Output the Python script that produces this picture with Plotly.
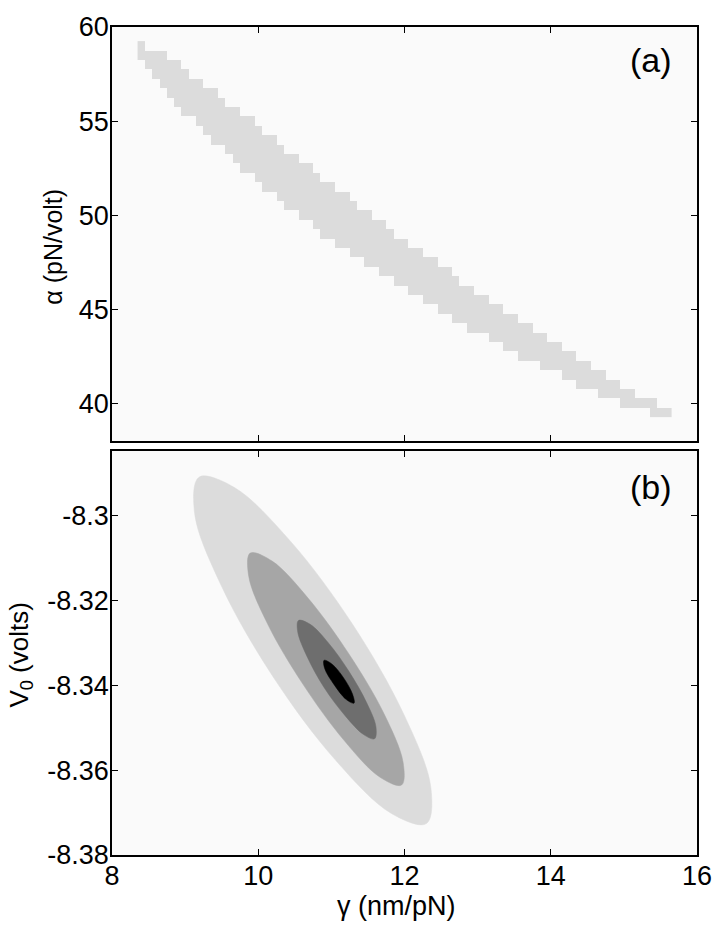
import plotly.graph_objects as go

# ---- panel (a): confidence band on the (gamma, alpha) grid ----
gamma_cols = [8.4, 8.5, 8.6, 8.7, 8.8, 8.9, 9.0, 9.1, 9.2, 9.3,
              9.4, 9.5, 9.6, 9.7, 9.8, 9.9, 10.0, 10.1, 10.2, 10.3,
              10.4, 10.5, 10.6, 10.7, 10.8, 10.9, 11.0, 11.1, 11.2, 11.3,
              11.4, 11.5, 11.6, 11.7, 11.8, 11.9, 12.0, 12.1, 12.2, 12.3,
              12.4, 12.5, 12.6, 12.7, 12.8, 12.9, 13.0, 13.1, 13.2, 13.3,
              13.4, 13.5, 13.6, 13.7, 13.8, 13.9, 14.0, 14.1, 14.2, 14.3,
              14.4, 14.5, 14.6, 14.7, 14.8, 14.9, 15.0, 15.1, 15.2, 15.3,
              15.4, 15.5, 15.6]
alpha_rows = [39.5, 40.0, 40.5, 41.0, 41.5, 42.0, 42.5, 43.0, 43.5, 44.0,
              44.5, 45.0, 45.5, 46.0, 46.5, 47.0, 47.5, 48.0, 48.5, 49.0,
              49.5, 50.0, 50.5, 51.0, 51.5, 52.0, 52.5, 53.0, 53.5, 54.0,
              54.5, 55.0, 55.5, 56.0, 56.5, 57.0, 57.5, 58.0, 58.5, 59.0]
band_top = [59.0, 58.5, 58.5, 58.5, 58.0, 58.0, 57.5, 57.0, 57.0, 56.5,
            56.5, 56.0, 55.5, 55.5, 55.0, 55.0, 54.5, 54.0, 54.0, 53.5,
            53.0, 53.0, 52.5, 52.5, 52.0, 51.5, 51.5, 51.0, 51.0, 50.5,
            50.0, 50.0, 49.5, 49.5, 49.0, 48.5, 48.5, 48.0, 48.0, 47.5,
            47.5, 47.0, 47.0, 46.5, 46.0, 46.0, 45.5, 45.5, 45.0, 45.0,
            44.5, 44.5, 44.0, 44.0, 43.5, 43.5, 43.0, 43.0, 42.5, 42.5,
            42.0, 42.0, 41.5, 41.5, 41.0, 41.0, 40.5, 40.5, 40.0, 40.0,
            40.0, 39.5, 39.5]
band_bottom = [58.5, 58.0, 57.5, 57.0, 56.5, 56.0, 55.5, 55.5, 55.0, 54.5,
               54.0, 54.0, 53.5, 53.0, 52.5, 52.5, 52.0, 51.5, 51.5, 51.0,
               50.5, 50.5, 50.0, 50.0, 49.5, 49.0, 49.0, 48.5, 48.5, 48.0,
               48.0, 47.5, 47.5, 47.0, 47.0, 46.5, 46.5, 46.0, 46.0, 45.5,
               45.5, 45.0, 45.0, 44.5, 44.5, 44.0, 44.0, 44.0, 43.5, 43.5,
               43.0, 43.0, 42.5, 42.5, 42.5, 42.0, 42.0, 42.0, 41.5, 41.5,
               41.0, 41.0, 41.0, 40.5, 40.5, 40.5, 40.0, 40.0, 40.0, 40.0,
               39.5, 39.5, 39.5]

# ---- panel (b): nested confidence regions (outline points, gamma / V0) ----
outer_g = [12.30, 11.82, 11.05, 10.20, 9.50, 9.13, 9.19, 9.67, 10.44, 11.29, 11.99, 12.36]
outer_v = [-8.3726, -8.3702, -8.3575, -8.3379, -8.3167, -8.2995, -8.2909, -8.2933,
           -8.3060, -8.3256, -8.3468, -8.3640]
mid_g = [11.96, 11.66, 11.17, 10.61, 10.13, 9.87, 9.89, 10.19, 10.68, 11.24, 11.72, 11.98]
mid_v = [-8.3635, -8.3616, -8.3529, -8.3397, -8.3256, -8.3143, -8.3088, -8.3107,
         -8.3194, -8.3326, -8.3467, -8.3581]
dark_g = [11.59, 11.44, 11.19, 10.90, 10.67, 10.54, 10.55, 10.71, 10.96, 11.24, 11.48, 11.61]
dark_v = [-8.3526, -8.3516, -8.3472, -8.3405, -8.3333, -8.3274, -8.3247, -8.3256,
          -8.3300, -8.3367, -8.3440, -8.3498]
core_g = [11.31, 11.20, 11.04, 10.91, 10.90, 11.01, 11.17, 11.29]
core_v = [-8.3442, -8.3433, -8.3399, -8.3361, -8.3341, -8.3350, -8.3383, -8.3421]

x_ticks = [8, 10, 12, 14, 16]
a_ticks = [40, 45, 50, 55, 60]
v_ticks = [-8.38, -8.36, -8.34, -8.32, -8.30]
v_ticktext = ["-8.38", "-8.36", "-8.34", "-8.32", "-8.3"]

FONT = "Liberation Sans, Arial, sans-serif"
BG = "#fafafa"

fig = go.Figure()

# band cells -> heatmap (None = empty cell)
z = [[1 if lo <= a <= hi else None for lo, hi in zip(band_bottom, band_top)]
     for a in alpha_rows]
fig.add_trace(go.Heatmap(
    x=gamma_cols, y=alpha_rows, z=z,
    colorscale=[[0, "#dcdcdc"], [1, "#dcdcdc"]],
    showscale=False, hoverinfo="skip",
    xaxis="x2", yaxis="y2",
))

for g, v, col in [(outer_g, outer_v, "#dcdcdc"),
                  (mid_g, mid_v, "#a6a6a6"),
                  (dark_g, dark_v, "#6e6e6e"),
                  (core_g, core_v, "#000000")]:
    fig.add_trace(go.Scatter(
        x=g + g[:1], y=v + v[:1],
        mode="lines", fill="toself", fillcolor=col,
        line=dict(color=col, width=0.5, shape="spline", smoothing=1.0),
        hoverinfo="skip", showlegend=False,
        xaxis="x", yaxis="y",
    ))

axis_common = dict(
    showline=True, linecolor="black", linewidth=1.6, mirror="ticks",
    ticks="inside", ticklen=6, tickwidth=1.4, tickcolor="black",
    showgrid=False, zeroline=False, ticklabeloverflow="allow",
    tickfont=dict(family=FONT, size=27, color="black"),
    ticklabelstandoff=-4,
)

def label(text, x, y, size=27, angle=0):
    return dict(text=text, x=x, y=y, xref="paper", yref="paper",
                xanchor="center", yanchor="middle", textangle=angle,
                showarrow=False, font=dict(family=FONT, size=size, color="black"))

fig.update_layout(
    width=724, height=928,
    margin=dict(l=112, r=19, t=13, b=73),
    paper_bgcolor="white", plot_bgcolor=BG,
    showlegend=False,
    font=dict(family=FONT, color="black"),
    xaxis=dict(domain=[0, 1], range=[8, 16], tickvals=x_ticks, anchor="y", **axis_common),
    yaxis=dict(domain=[0, 0.4881], range=[-8.38, -8.2847], tickvals=v_ticks,
               ticktext=v_ticktext, anchor="x", **axis_common),
    xaxis2=dict(domain=[0, 1], range=[8, 16], tickvals=x_ticks, showticklabels=False,
                anchor="y2", matches="x", **axis_common),
    yaxis2=dict(domain=[0.5, 1], range=[38, 60.001], tickvals=a_ticks, anchor="x2", **axis_common),
    annotations=[
        label("α (pN/volt)", -0.1, 0.734, size=25, angle=-90),
        label("V<sub>0</sub> (volts)", -0.157, 0.241, size=26, angle=-90),
        label("γ (nm/pN)", 0.487, -0.062),
        label("(a)", 0.922, 0.96, size=34),
        label("(b)", 0.922, 0.445, size=34),
    ],
)

fig.write_html("out.html", config={"displayModeBar": False},
               post_script="document.body.style.margin='0px';")
